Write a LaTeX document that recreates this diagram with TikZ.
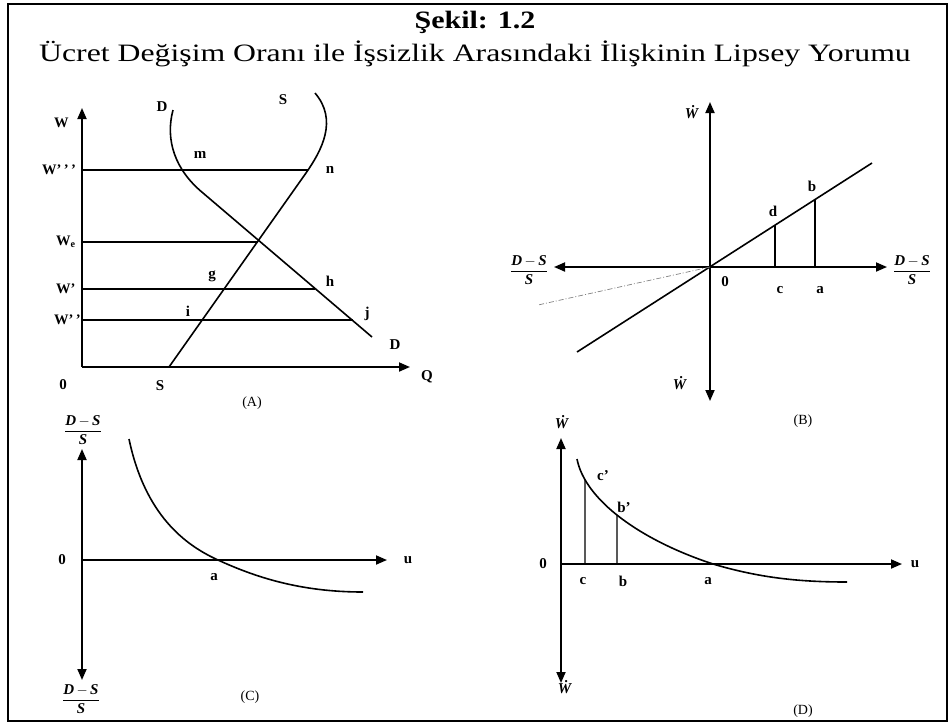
\documentclass[tikz,border=0pt]{standalone}
\usepackage{fontspec}
\usepackage{graphicx}
\setmainfont{Liberation Serif}
\usetikzlibrary{arrows.meta,intersections}
\newcommand{\DSfrac}{$\displaystyle\frac{\textbf{\textit{D}}\,{-}\,\textbf{\textit{S}}}{\textbf{\textit{S}}}$}
\newcommand{\Wdot}{\textbf{\textit{\.W}}}
\tikzset{
  tri/.tip={Triangle[length=11pt,width=9pt]},
  axis/.style={line width=1.8pt},
  curve/.style={line width=1.6pt},
  hline/.style={line width=1.3pt},
  lbl/.style={font=\fontsize{15}{15}\selectfont\bfseries, inner sep=0pt},
  slbl/.style={font=\fontsize{14.5}{14.5}\selectfont\bfseries, inner sep=0pt},
  captxt/.style={font=\fontsize{14}{14}\selectfont, inner sep=0pt},
  frac/.style={font=\fontsize{15}{15}\selectfont, inner sep=0pt},
}
\begin{document}
\begin{tikzpicture}[x=1pt,y=-1pt]
\useasboundingbox (0,0) rectangle (948,724);
\draw[line width=1.5pt] (8,4) rectangle (947,721);

% titles
\node[inner sep=0pt,font=\fontsize{25}{25}\selectfont\bfseries] (title) at (475,22) {\scalebox{1.2}[1]{Şekil: 1.2}};
\node[inner sep=0pt,font=\fontsize{25}{25}\selectfont] (subtitle) at (475,54) {\scalebox{1.27}[1]{Ücret Değişim Oranı ile İşsizlik Arasındaki İlişkinin Lipsey Yorumu}};

%%%%%%%% Panel A
\coordinate (Ao) at (82,367);
\coordinate (AWtop) at (82,108);
\coordinate (AQend) at (410,367);
\draw[axis,-tri] (Ao) -- (AWtop);
\draw[axis,-tri] (Ao) -- (AQend);
% horizontal lines
\coordinate (h3a) at (82,170); \coordinate (h3b) at (308,170);
\coordinate (hea) at (82,242); \coordinate (heb) at (258,242);
\coordinate (h1a) at (82,289); \coordinate (h1b) at (315,289);
\coordinate (h2a) at (82,320); \coordinate (h2b) at (353,320);
\draw[hline] (h3a) -- (h3b);
\draw[hline] (hea) -- (heb);
\draw[hline] (h1a) -- (h1b);
\draw[hline] (h2a) -- (h2b);
% S curve
\coordinate (S0) at (169,367);
\coordinate (S1) at (306,173);
\coordinate (S2) at (315,93);
\draw[curve] (S0) -- (S1) .. controls (322,150) and (338,120) .. (S2);
% D curve
\coordinate (D0) at (173,110);
\coordinate (D1) at (203,193);
\coordinate (D2) at (372,337);
\draw[curve] (D0) .. controls (165,140) and (175,170) .. (D1) -- (D2);
% labels
\node[slbl,anchor=west] (lW) at (54,123) {W};
\node[slbl,anchor=west] (lW3) at (42,170) {W’\,’\,’};
\node[slbl,anchor=west] (lWe) at (56,242) {W\textsubscript{e}};
\node[slbl,anchor=west] (lW1) at (56,289) {W’};
\node[slbl,anchor=west] (lW2) at (54,320) {W’\,’};
\node[lbl] (lA0) at (63,385) {0};
\node[lbl] (lAS) at (160,386) {S};
\node[lbl] (lQ) at (427,377) {Q};
\node[captxt] (lA) at (252,403) {(A)};
\node[lbl] (lDt) at (162,107) {D};
\node[lbl] (lSt) at (283,100) {S};
\node[lbl] (lm) at (200,155) {m};
\node[lbl] (ln) at (330,170) {n};
\node[lbl] (lg) at (212,276) {g};
\node[lbl] (lh) at (330,281) {h};
\node[lbl] (li) at (188,311) {i};
\node[lbl] (lj) at (367,314) {j};
\node[lbl] (lDb) at (395,345) {D};

%%%%%%%% Panel B
\coordinate (Bo) at (710,267);
\coordinate (Bl) at (554,267);
\coordinate (Br) at (887,267);
\coordinate (Bt) at (710,102);
\coordinate (Bb) at (710,401);
\draw[axis,tri-tri] (Bl) -- (Br);
\draw[axis,tri-tri] (Bt) -- (Bb);
\coordinate (BL1) at (577,352);
\coordinate (BL2) at (872,163);
\draw[curve] (BL1) -- (BL2);
\coordinate (Bc) at (775,267); \coordinate (Bd) at (775,225.4);
\coordinate (Ba) at (815,267); \coordinate (Bbp) at (815,199.7);
\draw[hline] (Bc) -- (Bd);
\draw[hline] (Ba) -- (Bbp);
\coordinate (Bdash) at (538,305);
\draw[gray,line width=0.7pt,dash pattern=on 5pt off 2pt on 1pt off 2pt] (Bo) -- (Bdash);
\node[frac] (fBl) at (529,270) {\DSfrac};
\node[frac] (fBr) at (912,270) {\DSfrac};
\node[frac] (wBt) at (692,112) {\Wdot};
\node[frac] (wBb) at (680,383) {\Wdot};
\node[lbl] (lB0) at (725,282) {0};
\node[lbl] (lBc) at (780,290) {c};
\node[lbl] (lBa) at (820,290) {a};
\node[lbl] (lBd) at (773,211) {d};
\node[lbl] (lBb) at (812,186) {b};
\node[captxt] (lB) at (803,421) {(B)};

%%%%%%%% Panel C
\coordinate (Co) at (82,560);
\coordinate (Ct) at (82,449);
\coordinate (Cb) at (82,680);
\coordinate (Cr) at (387,560);
\draw[axis,tri-tri] (Ct) -- (Cb);
\draw[axis,-tri] (Co) -- (Cr);
\coordinate (C0) at (129,439);
\coordinate (C1) at (218,560);
\coordinate (C2) at (363,592);
\draw[curve] (C0) .. controls (145,515) and (185,545) .. (C1) .. controls (255,577) and (300,592) .. (C2);
\node[frac] (fCt) at (83,430) {\DSfrac};
\node[frac] (fCb) at (81,699) {\DSfrac};
\node[lbl] (lC0) at (62,560) {0};
\node[lbl] (lCu) at (408,560) {u};
\node[lbl] (lCa) at (214,577) {a};
\node[captxt] (lC) at (250,697) {(C)};

%%%%%%%% Panel D
\coordinate (Do) at (561,564);
\coordinate (Dt) at (561,438);
\coordinate (Db) at (561,683);
\coordinate (Dr) at (902,564);
\draw[axis,tri-tri] (Dt) -- (Db);
\draw[axis,-tri] (Do) -- (Dr);
\coordinate (E0) at (577,459);
\coordinate (E1) at (713,564);
\coordinate (E2) at (847,582);
\draw[curve,name path=curveD] (E0) .. controls (585,500) and (640,540) .. (E1) .. controls (760,578) and (800,582) .. (E2);
\path[name path=vc] (585,564) -- (585,440);
\path[name path=vb] (617,564) -- (617,440);
\path[name intersections={of=curveD and vc,by=Ecp}];
\path[name intersections={of=curveD and vb,by=Ebp}];
\coordinate (Ec) at (585,564);
\coordinate (Eb) at (617,564);
\draw[hline] (Ec) -- (Ecp);
\draw[hline] (Eb) -- (Ebp);
\node[frac] (wDt) at (562,422) {\Wdot};
\node[frac] (wDb) at (565,687) {\Wdot};
\node[lbl] (lD0) at (543,564) {0};
\node[lbl] (lDu) at (915,564) {u};
\node[lbl] (lDc) at (583,581) {c};
\node[lbl] (lDb2) at (623,581) {b};
\node[lbl] (lDa) at (708,581) {a};
\node[lbl] (lDcp) at (603,476) {c’};
\node[lbl] (lDbp) at (624,507) {b’};
\node[captxt] (lD) at (803,711) {(D)};
\end{tikzpicture}
\end{document}
